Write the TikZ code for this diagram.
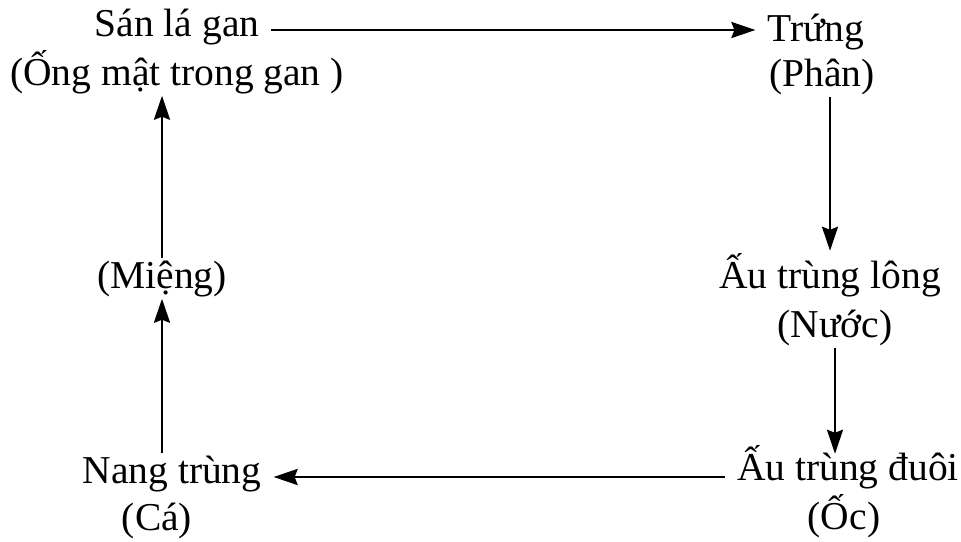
\documentclass[tikz,border=0pt]{standalone}
\usepackage{fontspec}
\setmainfont{Liberation Serif}
\usetikzlibrary{calc,arrows.meta}

\begin{document}
\begin{tikzpicture}[
  x=1pt,y=-1pt,
  font=\fontsize{39.5}{47}\selectfont,
  stage/.style={anchor=base,inner xsep=12pt,inner ysep=2pt},
  habitat/.style={anchor=base,inner xsep=12pt,inner ysep=2pt},
  link/.style={-{Stealth[length=24pt,width=16pt,inset=3pt]},line width=2.5pt}
]
\useasboundingbox (0,0) rectangle (961,541);

% ==========  Top row  ==========
\node[stage]   (san)   at (177,36) {Sán lá gan};
\node[habitat] (ong)   at (177,85) {(Ống mật trong gan )};
\node[stage]   (trung) at (816,41) {Trứng};
\node[habitat] (phan)  at (822,86) {(Phân)};

% ==========  Middle  ==========
\node[habitat] (mieng)  at (162,288) {(Miệng)};
\node[stage]   (aulong) at (830,288) {Ấu trùng lông};
\node[habitat] (nuoc)   at (835,337) {(Nước)};

% ==========  Bottom row  ==========
\node[stage]   (nang)   at (172,483) {Nang trùng};
\node[habitat] (ca)     at (157,530) {(Cá)};
\node[stage]   (auduoi) at (848,480) {Ấu trùng đuôi};
\node[habitat] (oc)     at (844,529) {(Ốc)};

% ==========  Cycle arrows  ==========
% san la gan -> trung
\draw[link] ([yshift=6pt]san.base east) -- ([yshift=6pt]san.base east -| trung.west);
% trung -> au trung long
\draw[link] (phan.south -| aulong.north) -- (aulong.north);
% au trung long -> au trung duoi
\draw[link] (nuoc.south) -- ($(nuoc.south |- auduoi.north)+(0,11)$);
% au trung duoi -> nang trung
\draw[link] ([yshift=3pt]auduoi.base west) -- ([yshift=3pt]auduoi.base west -| nang.east);
% nang trung -> mieng -> san la gan
\draw[link] (mieng |- nang.north) -- (mieng.south);
\draw[link] (mieng.north) -- (mieng |- ong.south);

\end{tikzpicture}
\end{document}
